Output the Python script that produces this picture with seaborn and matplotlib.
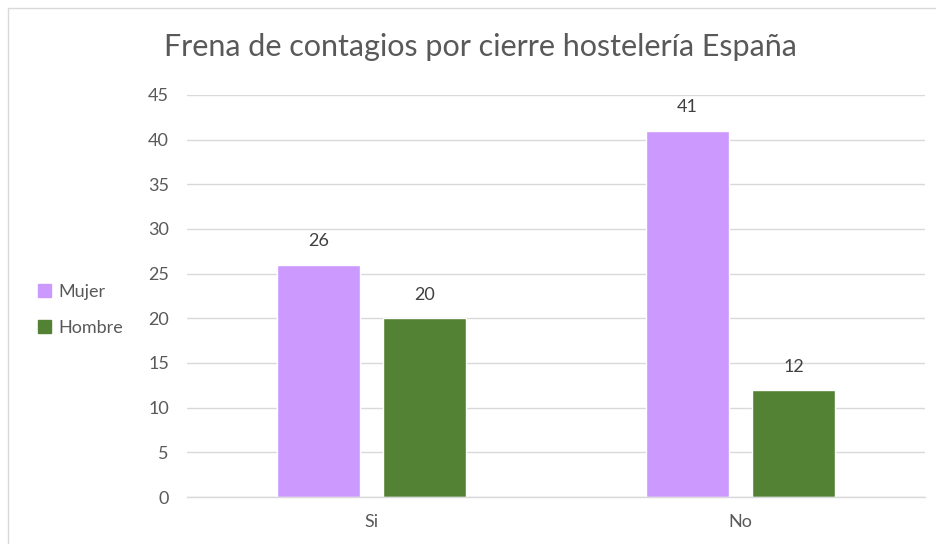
import matplotlib
matplotlib.use("Agg")
import matplotlib.pyplot as plt
import matplotlib.patches as mpatches
import seaborn as sns
import pandas as pd

# chart values
categorias = ["Si", "No"]
mujer = [26, 41]
hombre = [20, 12]
series = ["Mujer", "Hombre"]
colores = ["#CC99FF", "#548235"]
titulo = "Frena de contagios por cierre hostelería España"

df = pd.DataFrame({
    "respuesta": categorias * 2,
    "valor": mujer + hombre,
    "sexo": [series[0]] * len(categorias) + [series[1]] * len(categorias),
})

sns.set_theme(style="white")
plt.rcParams["font.family"] = ["Lato", "DejaVu Sans"]

fig = plt.figure(figsize=(9.36, 5.44), dpi=100)
ax = fig.add_axes([187 / 936, 1 - 497 / 544, (925 - 187) / 936, (497 - 95) / 544])

sns.barplot(data=df, x="respuesta", y="valor", hue="sexo", order=categorias,
            hue_order=series, palette=colores, width=0.575, gap=0.226,
            saturation=1, ax=ax, legend=False)

ax.set_ylim(0, 45)
ax.set_yticks(range(0, 46, 5))
ax.set_xlim(-0.5, 1.5)
ax.set_xlabel("")
ax.set_ylabel("")
ax.grid(axis="y", color="#D9D9D9", linewidth=1)
ax.set_axisbelow(True)
for s in ["top", "right", "left"]:
    ax.spines[s].set_visible(False)
ax.spines["bottom"].set_color("#D9D9D9")
ax.spines["bottom"].set_linewidth(1)
ax.tick_params(axis="both", length=0, labelsize=13, labelcolor="#595959")
ax.tick_params(axis="y", pad=13)
ax.tick_params(axis="x", pad=12)

for cont in ax.containers:
    ax.bar_label(cont, padding=11, fontsize=13, color="#404040")

fig.text(480 / 936, 1 - 47 / 544, titulo, ha="center", va="center",
         fontsize=22, color="#595959")

handles = [mpatches.Patch(color=c, label=l) for c, l in zip(colores, series)]
fig.legend(handles=handles, loc="center left", bbox_to_anchor=(22 / 936, 1 - 310 / 544),
           frameon=False, fontsize=13, labelcolor="#595959", handlelength=0.7,
           handleheight=0.7, handletextpad=0.4, labelspacing=1.1)

fig.patches.append(mpatches.Rectangle((8 / 936, -0.01), 1.0, 1 - 8 / 544 + 0.01,
                                      transform=fig.transFigure, fill=False,
                                      edgecolor="#D9D9D9", linewidth=1))

fig.savefig("out.png", dpi=100)
